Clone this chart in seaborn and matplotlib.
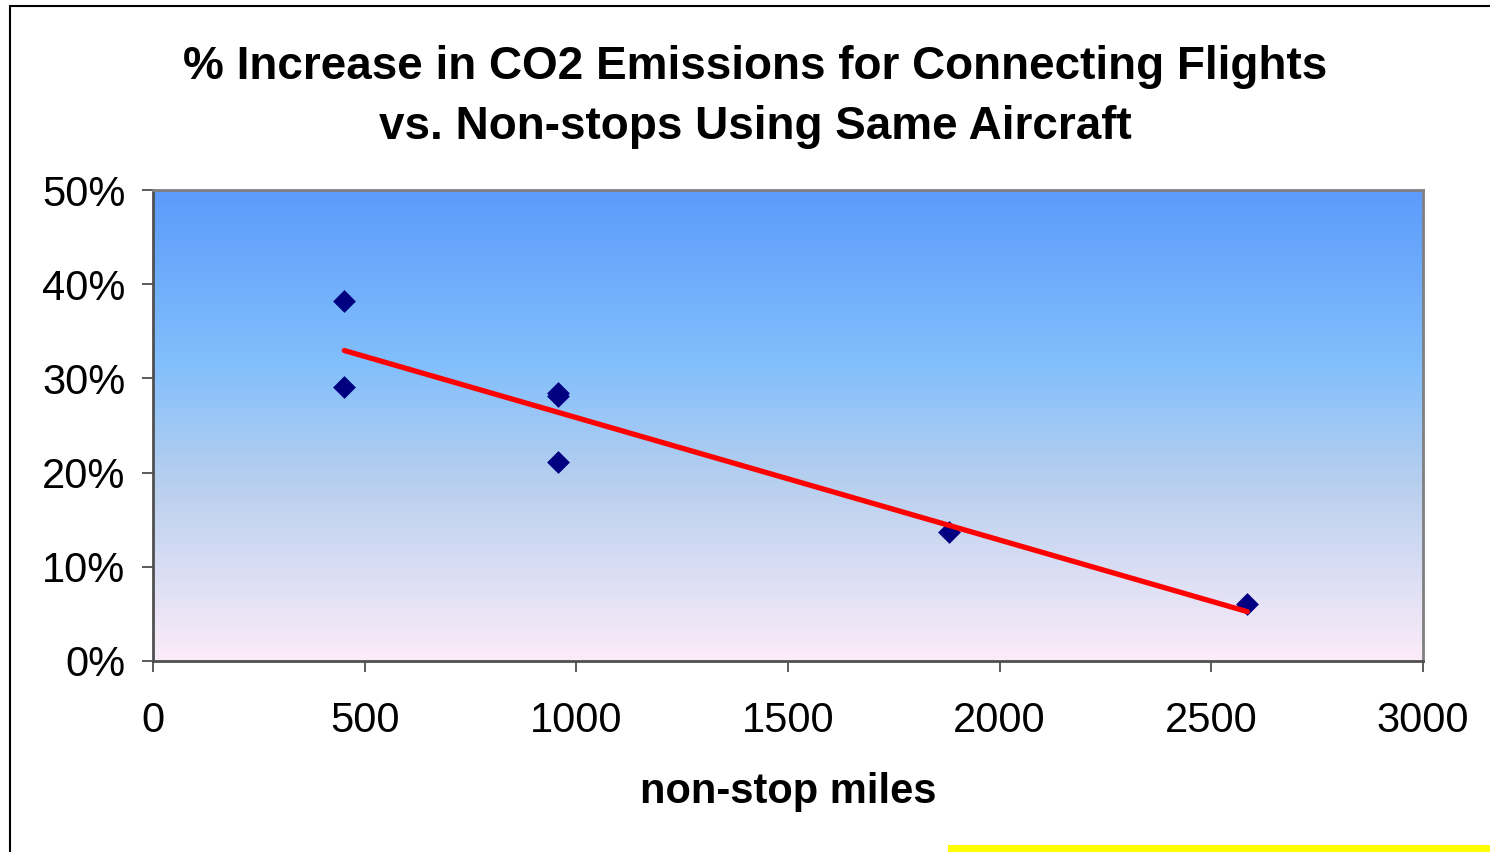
import matplotlib
matplotlib.use("Agg")
import matplotlib.pyplot as plt
import numpy as np
import pandas as pd
import seaborn as sns
from matplotlib.colors import LinearSegmentedColormap
from matplotlib.lines import Line2D
from matplotlib.patches import Rectangle
from matplotlib.ticker import FuncFormatter

# non-stop distance (miles) vs % increase in CO2 for connecting flights
nonstop_miles = [452, 452, 957, 957, 957, 1880, 2585]
pct_increase = [38.25, 29.05, 28.42, 28.16, 21.09, 13.73, 6.05]

x_ticks = [0, 500, 1000, 1500, 2000, 2500, 3000]
y_ticks = [0, 10, 20, 30, 40, 50]

TITLE = "% Increase in CO2 Emissions for Connecting Flights\nvs. Non-stops Using Same Aircraft"
XLABEL = "non-stop miles"

sns.set_style("white")
plt.rcParams["font.family"] = ["Liberation Sans", "DejaVu Sans"]
plt.rcParams["text.color"] = "black"
plt.rcParams["axes.labelcolor"] = "black"

df = pd.DataFrame({"miles": nonstop_miles, "pct": pct_increase})

fig = plt.figure(figsize=(14.9, 8.52), dpi=100)
ax = fig.add_axes([153 / 1490, 1 - 661 / 852, (1423 - 153) / 1490, (661 - 190) / 852])

# plot-area gradient (Excel style fill)
grad_cmap = LinearSegmentedColormap.from_list(
    "fill",
    [(0.0, "#fcecf9"), (0.38, "#b7cfee"), (0.63, "#82bffc"), (1.0, "#5c9bfb")],
)
ax.imshow(
    np.linspace(0, 1, 256).reshape(-1, 1),
    cmap=grad_cmap,
    origin="lower",
    extent=[0, 3000, 0, 50],
    aspect="auto",
    zorder=0,
)

sns.regplot(
    data=df,
    x="miles",
    y="pct",
    ci=None,
    marker="D",
    ax=ax,
    scatter_kws={"color": "#000080", "s": 135, "linewidths": 0, "alpha": 1, "zorder": 3},
    line_kws={"color": "#ff0000", "lw": 3.8, "solid_capstyle": "round", "zorder": 4},
)

ax.set_xlim(0, 3000)
ax.set_ylim(0, 50)
ax.set_xticks(x_ticks)
ax.set_yticks(y_ticks)
ax.yaxis.set_major_formatter(FuncFormatter(lambda v, _: f"{v:.0f}%"))
ax.tick_params(axis="both", which="major", direction="out", length=8, width=1.2,
               color="#404040", labelsize=30, labelcolor="black",
               bottom=True, left=True)
ax.tick_params(axis="x", pad=21)
ax.tick_params(axis="y", pad=12)

for side in ["top", "right", "bottom", "left"]:
    ax.spines[side].set_visible(True)
    ax.spines[side].set_color("#808080")
    ax.spines[side].set_linewidth(2)
ax.spines["bottom"].set_color("#505050")
ax.spines["left"].set_color("#505050")

ax.set_xlabel(XLABEL, fontsize=30, fontweight="bold", labelpad=22, color="black")
ax.set_ylabel("")

fig.text(0.507, 0.886, TITLE, ha="center", va="center", fontsize=33,
         fontweight="bold", linespacing=1.45, color="black")

# chart-area frame (left and top edges visible) and yellow strip at bottom
fig.add_artist(Line2D([9.5 / 1490, 9.5 / 1490], [0, 1 - 6 / 852], color="black", lw=1.5,
                      transform=fig.transFigure))
fig.add_artist(Line2D([9.5 / 1490, 1], [1 - 6 / 852, 1 - 6 / 852], color="black", lw=1.5,
                      transform=fig.transFigure))
fig.add_artist(Rectangle((948 / 1490, 0), 1 - 948 / 1490, 7 / 852, facecolor="#ffff00",
                         edgecolor="none", transform=fig.transFigure))

fig.savefig("out.png", dpi=100)
